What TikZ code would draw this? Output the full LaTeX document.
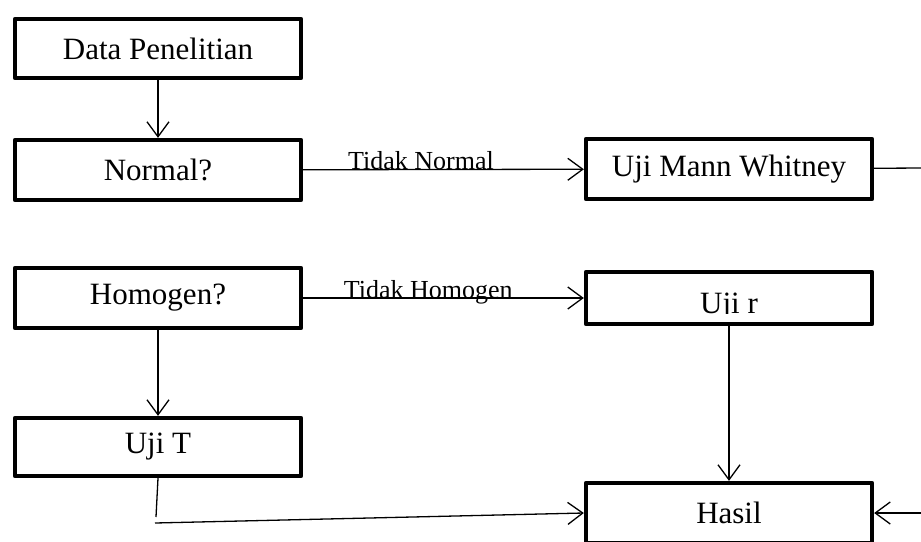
\documentclass[tikz,border=0pt]{standalone}
\usepackage{fontspec}
\setmainfont{Liberation Serif}
\usetikzlibrary{arrows.meta}
\tikzset{
  box/.style={draw,line width=4.3pt,line join=round,minimum width=286pt,
    minimum height=#1,inner sep=0pt,font=\fontsize{31}{36}\selectfont},
  lbl/.style={font=\fontsize{26}{30}\selectfont,inner sep=0pt,anchor=base},
  conn/.style={line width=1.3pt,-{Straight Barb[length=15pt,width=22pt]}},
  wire/.style={line width=1.3pt}
}
\begin{document}
\begin{tikzpicture}
  [x=1pt,y=-1pt]
\useasboundingbox (0,0) rectangle (921,541);
\node (n1)[box=59pt] at (158,48.5) {Data Penelitian};
  \node (n2)[box=60pt] at (158,170) {Normal?};
  \node (n3)[box=60pt] at (158,298) {Homogen?};
  \node (n4)[box=58pt] at (158,447) {Uji T};
  \node (n5)[box=60pt] at (729,169) {Uji Mann Whitney};
  \node (n6)[box=52pt] at (729,298) {};
  \node (n7)[box=60pt] at (729,513) {Hasil};

 % text of the Uji r box is cut at its baseline
 \begin{scope}
  \clip (584,270) rectangle (874,313.2);
  \node (t6)[lbl,font=\fontsize{31}{36}\selectfont] at (729,313) {Uji r};
 \end{scope}

 \coordinate (c1) at (925,168);
 \coordinate (c2) at (925,513);
 \coordinate (c3) at (156,517);
 \coordinate (c4) at (155,523);

 \foreach \from/\to in {n1/n2,n3/n4,n6/n7}
    \draw[conn] (\from) -- (\to);

 \draw[conn] (n2) -- node[lbl,pos=.42] {Tidak Normal} (n5);
 \draw[conn] (n3) -- node[lbl,pos=.446] {Tidak Homogen} (n6);
 \draw[wire] (n5) -- (c1);
 \draw[conn] (c2) -- (n7);
 \draw[wire] (n4.south) -- (c3);
 \draw[conn] (c4) -- (n7.west);
\end{tikzpicture}
\end{document}
